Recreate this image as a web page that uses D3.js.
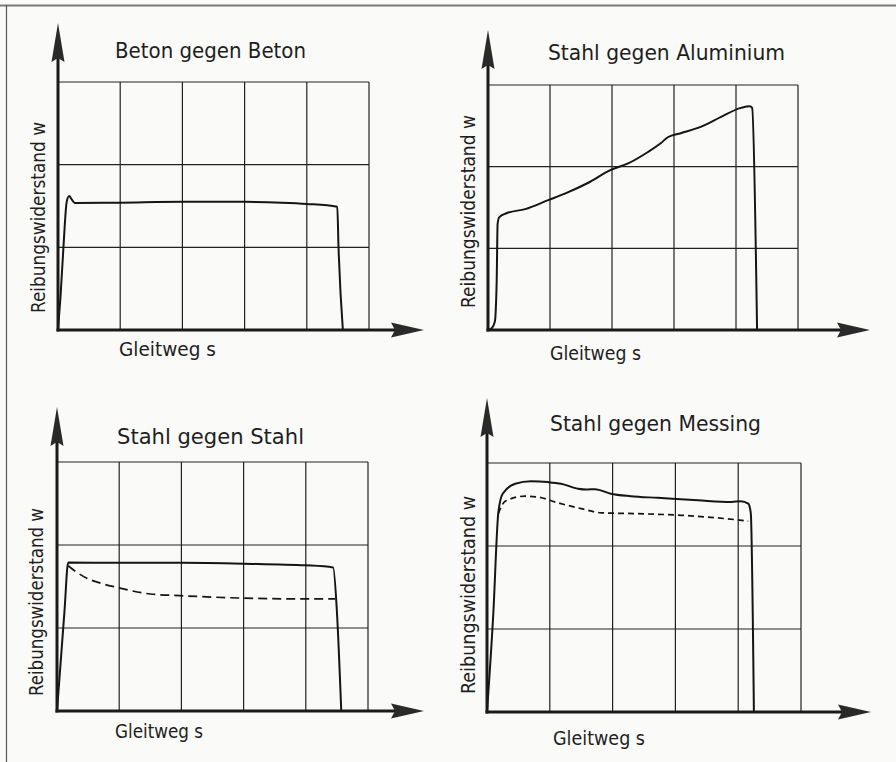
<!DOCTYPE html>
<html>
<head>
<meta charset="utf-8">
<script src="https://cdn.jsdelivr.net/npm/d3@7"></script>
<style>
  body { margin: 0; background: #fafaf8; }
  text { font-family: "DejaVu Sans Condensed", "Liberation Sans Narrow", sans-serif; fill: #1e1e1e; }
</style>
</head>
<body>
<div id="chart"></div>
<script>
/* Reibungswiderstand - four friction diagrams */

// --> DATA (x in grid columns 0-5, y in grid rows 0-3)
var titles = ["Beton gegen Beton", "Stahl gegen Aluminium", "Stahl gegen Stahl", "Stahl gegen Messing"];
var xLabel = "Gleitweg s";
var yLabel = "Reibungswiderstand w";

var betonBeton = [[0,0],[0.04,0.4],[0.085,0.97],[0.14,1.55],[0.18,1.62],[0.22,1.58],[0.27,1.535],[1,1.54],[2,1.55],[3,1.55],[3.6,1.54],[4,1.525],[4.49,1.49],[4.51,1.0],[4.58,0]];

var stahlAluminium = [[0,0],[0.06,0.02],[0.11,0.1],[0.14,0.6],[0.155,1.3],[0.18,1.38],[0.3,1.43],[0.6,1.48],[0.97,1.59],[1.24,1.67],[1.61,1.8],[1.98,1.96],[2.26,2.04],[2.58,2.18],[2.79,2.29],[2.9,2.36],[3.11,2.41],[3.44,2.49],[3.76,2.61],[4.08,2.72],[4.22,2.74],[4.26,2.72],[4.34,0]];

var stahlStahl = [[0,0],[0.05,0.5],[0.12,1.2],[0.18,1.79],[1,1.785],[2,1.785],[3,1.775],[4,1.755],[4.44,1.73],[4.5,1.2],[4.57,0]];
var stahlStahlDashed = [[0.18,1.75],[0.3,1.68],[0.48,1.6],[0.7,1.54],[0.96,1.49],[1.5,1.41],[1.98,1.39],[2.99,1.36],[3.99,1.35],[4.47,1.35]];

var stahlMessing = [[0,0],[0.1,1.18],[0.18,2.4],[0.25,2.63],[0.45,2.75],[0.7,2.78],[0.97,2.77],[1.18,2.75],[1.45,2.69],[1.58,2.68],[1.72,2.685],[1.97,2.63],[2.29,2.6],[2.72,2.58],[3.36,2.55],[3.89,2.53],[4.04,2.54],[4.16,2.51],[4.2,2.4],[4.25,0]];
var stahlMessingDashed = [[0.18,2.39],[0.29,2.54],[0.6,2.6],[0.81,2.59],[1.13,2.52],[1.5,2.45],[1.82,2.4],[2.36,2.39],[3.09,2.37],[3.79,2.33],[4.16,2.3]];

var solidSeries = [betonBeton, stahlAluminium, stahlStahl, stahlMessing];
var dashedSeries = [null, null, stahlStahlDashed, stahlMessingDashed];

// --> LAYOUT of each panel (pixel positions)
var panels = [
    { x0: 58,  x5: 369, y0: 330, y3: 82,  yTip: 23,  xTip: 424, tx: 115, ty: 58,  tw: 191, lx: 119, ly: 356, lw: 97, rx: 45,  rb: 313, rw: 191, dash: "9,5" },
    { x0: 488, x5: 798, y0: 330, y3: 85,  yTip: 30,  xTip: 870, tx: 548, ty: 60,  tw: 237, lx: 550, ly: 360, lw: 91, rx: 475, rb: 308, rw: 193, dash: "9,5" },
    { x0: 57,  x5: 368, y0: 711, y3: 462, yTip: 407, xTip: 424, tx: 117, ty: 444, tw: 187, lx: 115, ly: 738, lw: 88, rx: 43,  rb: 696, rw: 188, dash: "9,5" },
    { x0: 487, x5: 801, y0: 712, y3: 463, yTip: 398, xTip: 871, tx: 550, ty: 431, tw: 211, lx: 553, ly: 745, lw: 92, rx: 475, rb: 694, rw: 198, dash: "6,4" }
];

var width = 896,
    height = 762;

var svg = d3.select("#chart").append("svg")
    .attr("width", width)
    .attr("height", height);

// scan border (top and left edge)
svg.append("line").attr("x1", 0).attr("x2", width).attr("y1", 5.5).attr("y2", 5.5)
    .attr("stroke", "#7a7a7a").attr("stroke-width", 2);
svg.append("line").attr("x1", 6.5).attr("x2", 6.5).attr("y1", 5).attr("y2", height)
    .attr("stroke", "#555").attr("stroke-width", 1.2);

panels.forEach(function(p, i) {

    var x = d3.scaleLinear().domain([0, 5]).range([p.x0, p.x5]);
    var y = d3.scaleLinear().domain([0, 3]).range([p.y0, p.y3]);

    var g = svg.append("g");

    // grid
    g.selectAll(".vgrid")
        .data(d3.range(1, 6))
        .enter().append("line")
        .attr("x1", function(d) { return x(d); })
        .attr("x2", function(d) { return x(d); })
        .attr("y1", y(0))
        .attr("y2", y(3))
        .attr("stroke", "#222")
        .attr("stroke-width", 1.2);

    g.selectAll(".hgrid")
        .data(d3.range(1, 4))
        .enter().append("line")
        .attr("x1", x(0))
        .attr("x2", x(5))
        .attr("y1", function(d) { return y(d); })
        .attr("y2", function(d) { return y(d); })
        .attr("stroke", "#222")
        .attr("stroke-width", 1.2);

    // curves
    var line = d3.line()
        .x(function(d) { return x(d[0]); })
        .y(function(d) { return y(d[1]); })
        .curve(d3.curveMonotoneX);

    if (dashedSeries[i]) {
        g.append("path")
            .attr("d", line(dashedSeries[i]))
            .attr("fill", "none")
            .attr("stroke", "#151515")
            .attr("stroke-width", 1.7)
            .attr("stroke-dasharray", p.dash);
    }

    g.append("path")
        .attr("d", line(solidSeries[i]))
        .attr("fill", "none")
        .attr("stroke", "#151515")
        .attr("stroke-width", 2)
        .attr("stroke-linejoin", "round");

    // axes with arrows
    var ax = x(0), ay = y(0);
    g.append("line")
        .attr("x1", ax).attr("x2", ax)
        .attr("y1", ay + 1.5).attr("y2", p.yTip + 20)
        .attr("stroke", "#1a1a1a").attr("stroke-width", 3);
    g.append("line")
        .attr("x1", ax - 1.5).attr("x2", p.xTip - 20)
        .attr("y1", ay).attr("y2", ay)
        .attr("stroke", "#1a1a1a").attr("stroke-width", 3);

    g.append("path")
        .attr("d", "M" + ax + "," + p.yTip +
            "L" + (ax + 6.5) + "," + (p.yTip + 39) +
            "L" + ax + "," + (p.yTip + 35) +
            "L" + (ax - 6.5) + "," + (p.yTip + 39) + "Z")
        .attr("fill", "#2a2a2a");
    g.append("path")
        .attr("d", "M" + p.xTip + "," + ay +
            "L" + (p.xTip - 33) + "," + (ay + 7.5) +
            "L" + (p.xTip - 29) + "," + ay +
            "L" + (p.xTip - 33) + "," + (ay - 7.5) + "Z")
        .attr("fill", "#2a2a2a");

    // texts
    g.append("text")
        .attr("x", p.tx)
        .attr("y", p.ty)
        .attr("textLength", p.tw)
        .attr("lengthAdjust", "spacingAndGlyphs")
        .style("font-size", "21px")
        .text(titles[i]);

    g.append("text")
        .attr("x", p.lx)
        .attr("y", p.ly)
        .attr("textLength", p.lw)
        .attr("lengthAdjust", "spacingAndGlyphs")
        .style("font-size", "20px")
        .text(xLabel);

    g.append("text")
        .attr("transform", "translate(" + p.rx + "," + p.rb + ") rotate(-90)")
        .attr("textLength", p.rw)
        .attr("lengthAdjust", "spacingAndGlyphs")
        .style("font-size", "20px")
        .text(yLabel);
});
</script>
</body>
</html>
